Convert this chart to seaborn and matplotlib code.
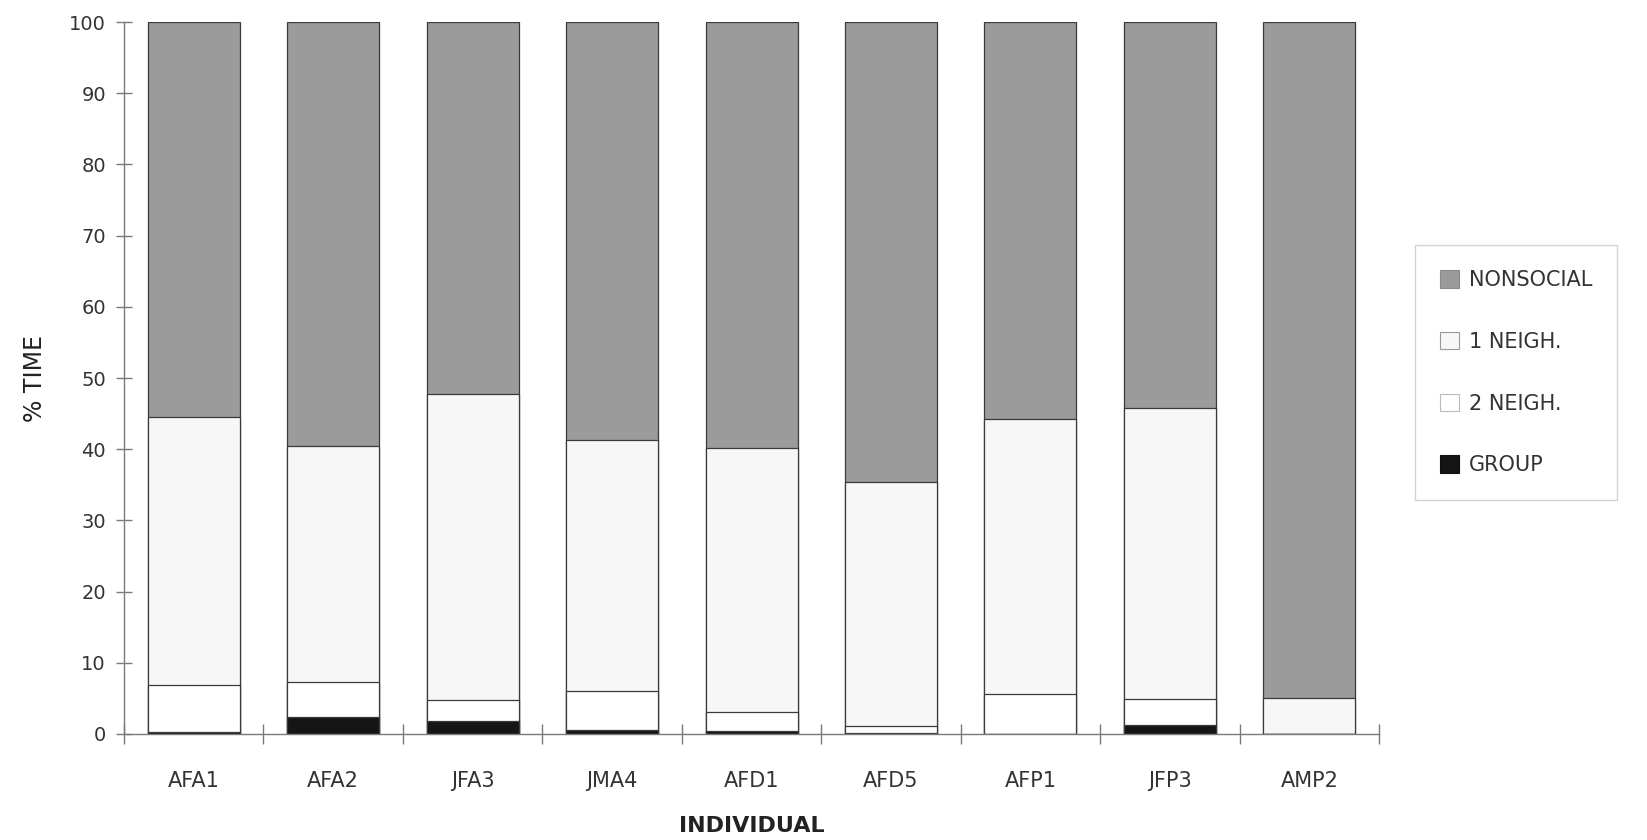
import numpy as np
import pandas as pd
import matplotlib
matplotlib.use("Agg")
import matplotlib.pyplot as plt
from matplotlib.patches import Patch
import seaborn as sns

# Percentage of time spent in each social state, per individual
individuals = ["AFA1", "AFA2", "JFA3", "JMA4", "AFD1", "AFD5", "AFP1", "JFP3", "AMP2"]
group = [0.3, 2.4, 1.8, 0.6, 0.4, 0.2, 0.0, 1.3, 0.0]
two_neigh = [6.6, 4.9, 3.0, 5.5, 2.7, 0.9, 5.6, 3.6, 0.0]
one_neigh = [37.6, 33.1, 43.0, 35.2, 37.1, 34.3, 38.7, 40.9, 5.1]
nonsocial = [55.5, 59.6, 52.2, 58.7, 59.8, 64.6, 55.7, 54.2, 94.9]

series_names = ["GROUP", "2 NEIGH.", "1 NEIGH.", "NONSOCIAL"]
series_colors = ["#151515", "#ffffff", "#f7f7f7", "#9b9b9b"]

sns.set_theme(style="white")
plt.rcParams["font.family"] = ["DejaVu Sans"]

df = pd.DataFrame({
    "INDIVIDUAL": individuals,
    "GROUP": group,
    "2 NEIGH.": two_neigh,
    "1 NEIGH.": one_neigh,
    "NONSOCIAL": nonsocial,
})
cum = df[series_names].cumsum(axis=1)

fig = plt.figure(figsize=(16.47, 8.40), dpi=100)
ax = fig.add_axes([0.0753, 0.1262, 0.762, 0.8476])

# Stacked bars: draw cumulative totals from the top layer down
for name, color in reversed(list(zip(series_names, series_colors))):
    sns.barplot(x=df["INDIVIDUAL"], y=cum[name], color=color, width=0.66,
                edgecolor="#3a3a3a", linewidth=0.9, ax=ax, saturation=1)

ax.set_xlim(-0.5, len(individuals) - 0.5)
ax.set_ylim(0, 100)
ax.set_yticks(np.arange(0, 101, 10))

text_color = "#333333"
axis_color = "#7a7a7a"

for side in ["top", "right"]:
    ax.spines[side].set_visible(False)
for side in ["left", "bottom"]:
    ax.spines[side].set_color(axis_color)
    ax.spines[side].set_linewidth(1.0)

ax.tick_params(axis="y", direction="inout", length=12, width=1.0, color=axis_color,
               labelsize=14, labelcolor=text_color, pad=7, left=True)
ax.tick_params(axis="x", which="major", length=0, labelsize=15,
               labelcolor=text_color, pad=27, bottom=True)
ax.set_xticks(np.arange(-0.5, len(individuals)), minor=True)
ax.tick_params(axis="x", which="minor", direction="inout", length=14, width=1.0,
               color=axis_color, bottom=True)

ax.set_xlabel("INDIVIDUAL", fontsize=16, fontweight="bold", color="#222222",
              labelpad=18)
ax.set_ylabel("% TIME", fontsize=17, color="#222222", labelpad=16)

# Legend, listed top of stack first
handles = [Patch(facecolor=c, edgecolor=e, linewidth=0.8, label=n)
           for n, c, e in zip(reversed(series_names), reversed(series_colors),
                              ["#8a8a8a", "#9a9a9a", "#bbbbbb", "#111111"])]
leg = fig.legend(handles=handles, loc="upper left",
                 bbox_to_anchor=(0.859, 0.708), frameon=True, fancybox=False,
                 fontsize=15, labelspacing=2.0, handlelength=0.9,
                 handleheight=0.9, handletextpad=0.5, borderpad=1.2,
                 borderaxespad=0)
leg.get_frame().set_edgecolor("#c8c8c8")
leg.get_frame().set_linewidth(1.0)
for t in leg.get_texts():
    t.set_color(text_color)

fig.savefig("out.png", dpi=100)
